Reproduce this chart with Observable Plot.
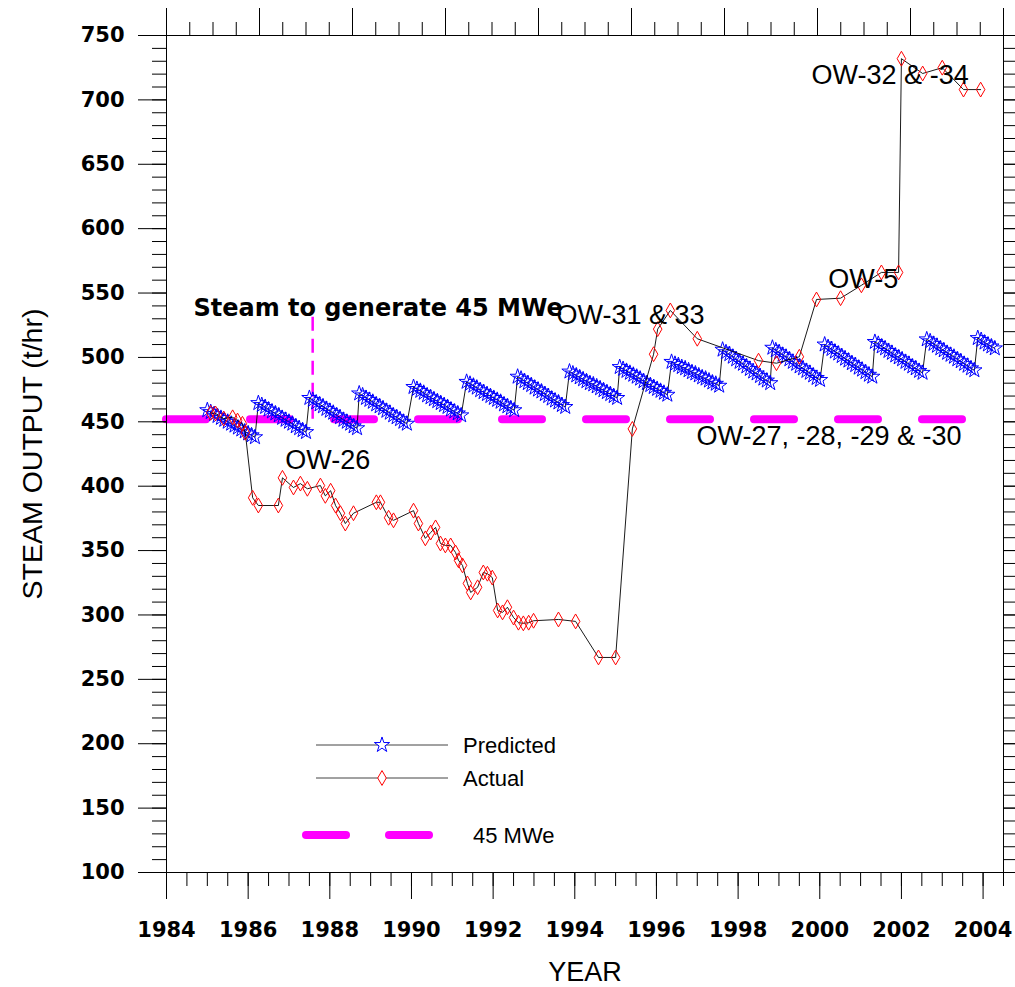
<!DOCTYPE html>
<html>
<head>
<meta charset="utf-8">
<script src="https://cdn.jsdelivr.net/npm/d3@7"></script>
<script src="https://cdn.jsdelivr.net/npm/@observablehq/plot@0.6"></script>
<style>
  body { margin: 0; background: #fff; }
  #chart { position: relative; width: 1015px; height: 987px; }
</style>
</head>
<body>
<div id="chart"></div>
<script>
// ---------- DATA ----------
// Predicted steam output: monthly points, one block per make-up cycle
const predictedStartYears = [1985.0, 1986.25, 1987.5, 1988.72, 1990.05, 1991.35, 1992.6, 1993.87,
  1995.1, 1996.37, 1997.62, 1998.84, 2000.12, 2001.35, 2002.62, 2003.87];
const predictedSegments = [
  [459, 457.5, 456, 454.5, 453, 451.5, 450, 448.5, 447, 445.5, 444, 442.5, 441, 439.5, 438],
  [464.5, 463, 461.5, 459.5, 458, 456.5, 455, 453, 451.5, 450, 448.5, 446.5, 445, 443.5, 442],
  [468.5, 467, 465, 463.5, 462, 460, 458.5, 457, 455, 453.5, 451.5, 450, 448.5, 446.5, 445],
  [472, 470.5, 468.5, 467, 465.5, 463.5, 462, 460.5, 458.5, 457, 455, 453.5, 452, 450, 448.5],
  [477, 475.5, 474, 472.5, 470.5, 469, 467.5, 466, 464.5, 463, 461.5, 459.5, 458, 456.5, 455],
  [481, 479.5, 478, 476.5, 474.5, 473, 471.5, 470, 468.5, 467, 465.5, 463.5, 462, 460.5, 459],
  [485, 483.5, 481.5, 480, 478.5, 476.5, 475, 473.5, 471.5, 470, 468, 466.5, 465, 463, 461.5],
  [489, 487.5, 486, 484.5, 483, 481.5, 480, 479, 477.5, 476, 474.5, 473, 471.5, 470, 468.5],
  [492.5, 491, 489.5, 488, 486.5, 485, 483.5, 481.5, 480, 478.5, 477, 475.5, 474, 472.5, 471],
  [496.5, 495, 494, 492.5, 491.5, 490, 488.5, 487.5, 486, 484.5, 483.5, 482, 480.5, 479.5, 478],
  [506, 504, 502.5, 500.5, 498.5, 496.5, 495, 493, 491, 489, 487.5, 485.5, 483.5, 482, 480],
  [507.5, 505.5, 504, 502, 500.5, 498.5, 496.5, 495, 493, 491.5, 489.5, 488, 486, 484, 482.5],
  [510, 508, 506.5, 504.5, 503, 501, 499, 497.5, 495.5, 494, 492, 490.5, 488.5, 486.5, 485],
  [512, 510.5, 508.5, 507, 505, 503.5, 501.5, 500, 498.5, 496.5, 495, 493, 491.5, 489.5, 488],
  [514, 512.5, 510.5, 509, 507, 505.5, 503.5, 502, 500.5, 498.5, 497, 495, 493.5, 491.5, 490],
  [515, 513.5, 511.5, 510, 508.5, 507]
];

// Actual steam output
const actualYears = [1985.08, 1985.20, 1985.40, 1985.62, 1985.74, 1985.86, 1985.93, 1986.11, 1986.25, 1986.74,
  1986.84, 1987.11, 1987.28, 1987.45, 1987.77, 1987.89, 1988.02, 1988.14, 1988.26, 1988.38,
  1988.58, 1989.14, 1989.24, 1989.44, 1989.56, 1990.05, 1990.17, 1990.34, 1990.47, 1990.59,
  1990.71, 1990.83, 1990.96, 1991.08, 1991.15, 1991.25, 1991.37, 1991.45, 1991.62, 1991.76,
  1991.86, 1991.98, 1992.11, 1992.23, 1992.35, 1992.50, 1992.62, 1992.74, 1992.87, 1992.99,
  1993.60, 1994.02, 1994.58, 1995.00, 1995.41, 1995.93, 1996.03, 1996.34, 1997.00, 1998.50,
  1998.94, 1999.50, 1999.92, 2000.51, 2001.02, 2001.51, 2001.93, 2002.00, 2002.52, 2003.00,
  2003.52, 2003.94];
const actualValues = [457, 456.5, 452.5, 453.5, 451, 448.5, 441.5, 391, 385, 385,
  406.5, 399, 402, 398, 400.5, 392.5, 396.5, 385, 379, 371,
  379, 387.5, 387.5, 375.5, 373.5, 381, 371, 359.5, 364, 368,
  355.5, 354, 354, 348.5, 342.5, 338.5, 324.5, 317.5, 321.5, 333,
  332, 329, 303.5, 302, 306, 298, 294, 293.5, 294, 295.5,
  296.5, 295, 267, 267, 444.5, 502.5, 522, 536.5, 514.5, 497.5,
  495.5, 500.5, 545, 546, 556, 566, 566, 732, 720.5, 725,
  708, 708];

// 45 MWe requirement
const mweLevel = 452;
const mweLeader = {year: 1987.58, from: 452, to: 535};

// Well annotations
const wellLabels = ["OW-26", "OW-31 & 33", "OW-5", "OW-32 & -34", "OW-27, -28, -29 & -30"];
const wellLabelYears = [1986.91, 1993.55, 2000.21, 1999.8, 1996.98];
const wellLabelValues = [420, 532.5, 561, 719, 438.5];
const steamNote = {text: "Steam to generate 45 MWe", year: 1984.66, value: 538};

// Axis ticks
const xTickLabels = [1984, 1986, 1988, 1990, 1992, 1994, 1996, 1998, 2000, 2002, 2004];
const yTickLabels = [100, 150, 200, 250, 300, 350, 400, 450, 500, 550, 600, 650, 700, 750];
const xMinor = d3.range(1984, 2004.51, 0.5);
const yMinor = d3.range(100, 750.1, 10);
const xDomain = [1984, 2004.5];
const yDomain = [100, 750];
// top axis: 9 equal unlabeled divisions with 3 minor ticks each
const topMinor = d3.range(0, 37).map(i => xDomain[0] + i * (xDomain[1] - xDomain[0]) / 36);
const topMajor = topMinor.filter((d, i) => i % 4 === 0);

// ---------- BUILD ----------
const predicted = [];
predictedStartYears.forEach((s, k) => predictedSegments[k].forEach((v, i) => predicted.push({year: s + i / 12, value: v})));
const actual = actualYears.map((y, i) => ({year: y, value: actualValues[i]}));
const wells = wellLabels.map((t, i) => ({text: t, year: wellLabelYears[i], value: wellLabelValues[i]}));

const MAGENTA = "#ff00ff";
const STAR_R = 4.8;
const DIAMOND_R = 4.5;

const chart = Plot.plot({
  width: 1015,
  height: 987,
  marginLeft: 166,
  marginRight: 12,
  marginTop: 35,
  marginBottom: 115,
  x: {domain: xDomain},
  y: {domain: yDomain},
  style: {fontFamily: "DejaVu Sans", fontSize: "21px", background: "white", color: "black", overflow: "visible"},
  marks: [
    Plot.ruleY([mweLevel], {stroke: MAGENTA, strokeWidth: 8, strokeLinecap: "round", strokeDasharray: "40,44"}),
    Plot.ruleX([mweLeader], {x: "year", y1: "from", y2: "to", stroke: MAGENTA, strokeWidth: 2.5, strokeDasharray: "14,8"}),
    Plot.line(predicted, {x: "year", y: "value", stroke: "black", strokeWidth: 0.9}),
    Plot.dot(predicted, {x: "year", y: "value", symbol: "star", r: STAR_R, stroke: "blue", strokeWidth: 1, fill: "none"}),
    Plot.line(actual, {x: "year", y: "value", stroke: "black", strokeWidth: 0.9}),
    Plot.dot(actual, {x: "year", y: "value", symbol: d3.symbolDiamond, r: DIAMOND_R, stroke: "red", strokeWidth: 1, fill: "none"}),
    Plot.text(wells, {x: "year", y: "value", text: "text", textAnchor: "start", lineAnchor: "middle",
      fontFamily: "Liberation Sans", fontSize: 27, fill: "black"}),
    Plot.text([steamNote], {x: "year", y: "value", text: "text", textAnchor: "start", lineAnchor: "middle",
      fontFamily: "DejaVu Sans", fontWeight: "bold", fontSize: 24, fill: "black"}),
    Plot.frame({stroke: "black", strokeWidth: 1}),
    // bottom axis
    Plot.axisX({ticks: xTickLabels, tickSize: 27, tickPadding: 23, tickFormat: d => String(d),
      fontWeight: "bold", fontSize: 21, label: null, stroke: "black"}),
    Plot.axisX({ticks: xMinor, tickSize: 14, fill: "none", label: null, stroke: "black"}),
    // top axis
    Plot.axisX({anchor: "top", ticks: topMajor, tickSize: 28, fill: "none", label: null, stroke: "black"}),
    Plot.axisX({anchor: "top", ticks: topMinor, tickSize: 14, fill: "none", label: null, stroke: "black"}),
    // left axis
    Plot.axisY({ticks: yTickLabels, tickSize: 28, tickPadding: 14, tickFormat: d => String(d),
      fontWeight: "bold", fontSize: 21, label: null, stroke: "black"}),
    Plot.axisY({ticks: yMinor, tickSize: 14, fill: "none", label: null, stroke: "black"}),
    // right axis
    Plot.axisY({anchor: "right", ticks: yTickLabels, tickSize: 28, fill: "none", label: null, stroke: "black"}),
    Plot.axisY({anchor: "right", ticks: yMinor, tickSize: 14, fill: "none", label: null, stroke: "black"}),
    // axis titles
    Plot.text(["YEAR"], {frameAnchor: "bottom", dy: 100, text: d => d, fontFamily: "Liberation Sans",
      fontSize: 27, textAnchor: "middle", lineAnchor: "middle"}),
    Plot.text(["STEAM OUTPUT (t/hr)"], {frameAnchor: "left", dx: -134, rotate: -90, text: d => d,
      fontFamily: "Liberation Sans", fontSize: 28.5, textAnchor: "middle", lineAnchor: "middle"})
  ]
});

// ---------- LEGEND (inside the plot area) ----------
const svg = d3.select(chart);
const lg = svg.append("g").attr("class", "legend").attr("text-anchor", "start");
const legendItems = [
  {label: "Predicted", symbol: d3.symbolStar, size: Math.PI * STAR_R * STAR_R, color: "blue"},
  {label: "Actual", symbol: d3.symbolDiamond, size: Math.PI * DIAMOND_R * DIAMOND_R, color: "red"}
];
legendItems.forEach((it, i) => {
  const yy = 745 + i * 33;
  lg.append("line").attr("x1", 316).attr("x2", 448).attr("y1", yy).attr("y2", yy)
    .attr("stroke", "#444").attr("stroke-width", 1);
  lg.append("path").attr("d", d3.symbol(it.symbol, it.size)()).attr("transform", `translate(382,${yy})`)
    .attr("fill", "white").attr("stroke", it.color).attr("stroke-width", 1);
  lg.append("text").attr("x", 463).attr("y", yy).attr("dy", "0.35em").attr("text-anchor", "start").text(it.label)
    .attr("font-family", "Liberation Sans").attr("font-size", 22).attr("fill", "black");
});
[[306, 346], [389, 429]].forEach(([a, b]) => {
  lg.append("line").attr("x1", a).attr("x2", b).attr("y1", 835).attr("y2", 835)
    .attr("stroke", MAGENTA).attr("stroke-width", 8).attr("stroke-linecap", "round");
});
lg.append("text").attr("x", 473).attr("y", 835).attr("dy", "0.35em").attr("text-anchor", "start").text("45 MWe")
  .attr("font-family", "Liberation Sans").attr("font-size", 22).attr("fill", "black");

document.getElementById("chart").appendChild(chart);
</script>
</body>
</html>
